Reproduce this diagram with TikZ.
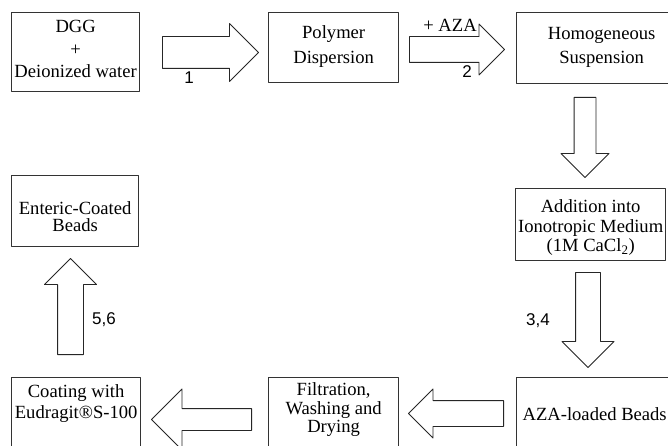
\documentclass[tikz,border=0pt]{standalone}
\usepackage{fontspec}
\setmainfont{Liberation Serif}
\newfontfamily\numfont{Liberation Sans}
\usetikzlibrary{shapes.arrows}

\tikzset{
  box/.style={draw=black!80, line width=1.3pt, anchor=north west, align=center,
    inner xsep=0pt, inner ysep=0pt, font=\fontsize{18.6}{22}\selectfont},
  blockarrow/.style={single arrow, draw=black!85, line width=0.9pt, anchor=tail,
    single arrow tip angle=90, minimum width=0pt},
  steplabel/.style={font=\numfont\fontsize{17}{20}\selectfont, inner sep=0pt},
}

\begin{document}
\begin{tikzpicture}[line cap=round,line join=round,x=1pt,y=-1pt]
	\useasboundingbox (0,0) rectangle (668,446);
	\clip (0,0) rectangle (668,446);
	\fill[white] (0,0) rectangle (668,446);

	\node[box, minimum width=128pt, text height=65pt, text depth=14pt,
		font=\fontsize{18.6}{22.5}\selectfont] (dgg) at (11,12) {DGG\\+\\Deionized water};
	\node[box, minimum width=130pt, text height=51pt, text depth=19pt,
		font=\fontsize{18.6}{25}\selectfont] (poly) at (268,12) {Polymer\\Dispersion};
	\node[box, minimum width=170pt, text height=51pt, text depth=20pt,
		font=\fontsize{18.6}{24}\selectfont] (homo) at (516,12) {Homogeneous\\Suspension};
	\node[box, minimum width=150pt, text height=63pt, text depth=9pt,
		font=\fontsize{18.6}{19.5}\selectfont] (ionic) at (515,188) {Addition into\\Ionotropic Medium\\(1M CaCl\textsubscript{2})};
	\node[box, minimum width=156pt, text height=43pt, text depth=32pt] (loaded) at (516,377) {AZA-loaded Beads};
	\node[box, minimum width=130pt, text height=55pt, text depth=20pt,
		font=\fontsize{18.6}{18.5}\selectfont] (filt) at (268,377) {Filtration,\\Washing and\\Drying};
	\node[box, minimum width=129pt, text height=41pt, text depth=34pt,
		font=\fontsize{18.6}{21}\selectfont] (coat) at (11,377) {Coating with\\Eudragit®S-100};
	\node[box, minimum width=127pt, text height=56pt, text depth=15pt,
		font=\fontsize{18.6}{17}\selectfont] (coated) at (11,175) {Enteric-Coated\\Beads};

	\node[blockarrow, inner sep=15.5pt, single arrow head extend=13pt, minimum height=96pt] (ar1) at (162,52.5) {};
	\node[blockarrow, inner sep=12.5pt, single arrow head extend=12.5pt, minimum height=95pt] (ar2) at (409,49.5) {};
	\node[blockarrow, rotate=-90, inner sep=10.5pt, single arrow head extend=13pt, minimum height=80pt] (ar3) at (585,97) {};
	\node[blockarrow, rotate=-90, inner sep=12pt, single arrow head extend=13.5pt, minimum height=95pt] (ar4) at (588,272) {};
	\node[blockarrow, rotate=180, inner sep=12.5pt, single arrow head extend=11.5pt, minimum height=95pt] (ar5) at (504,413.5) {};
	\node[blockarrow, rotate=180, inner sep=10.5pt, single arrow head extend=19.5pt, minimum height=100pt] (ar6) at (252,419.5) {};
	\node[blockarrow, rotate=90, inner sep=12.5pt, single arrow head extend=13pt, minimum height=96pt] (ar7) at (70.5,355) {};

	\node[font=\fontsize{18.6}{22}\selectfont, inner sep=0pt, anchor=base] (addaza) at (450,32) {+ AZA};
	\node[steplabel] (s1) at (189,78) {1};
	\node[steplabel] (s2) at (467,72) {2};
	\node[steplabel] (s34) at (538,321) {3,4};
	\node[steplabel] (s56) at (104,320) {5,6};
\end{tikzpicture}
\end{document}
